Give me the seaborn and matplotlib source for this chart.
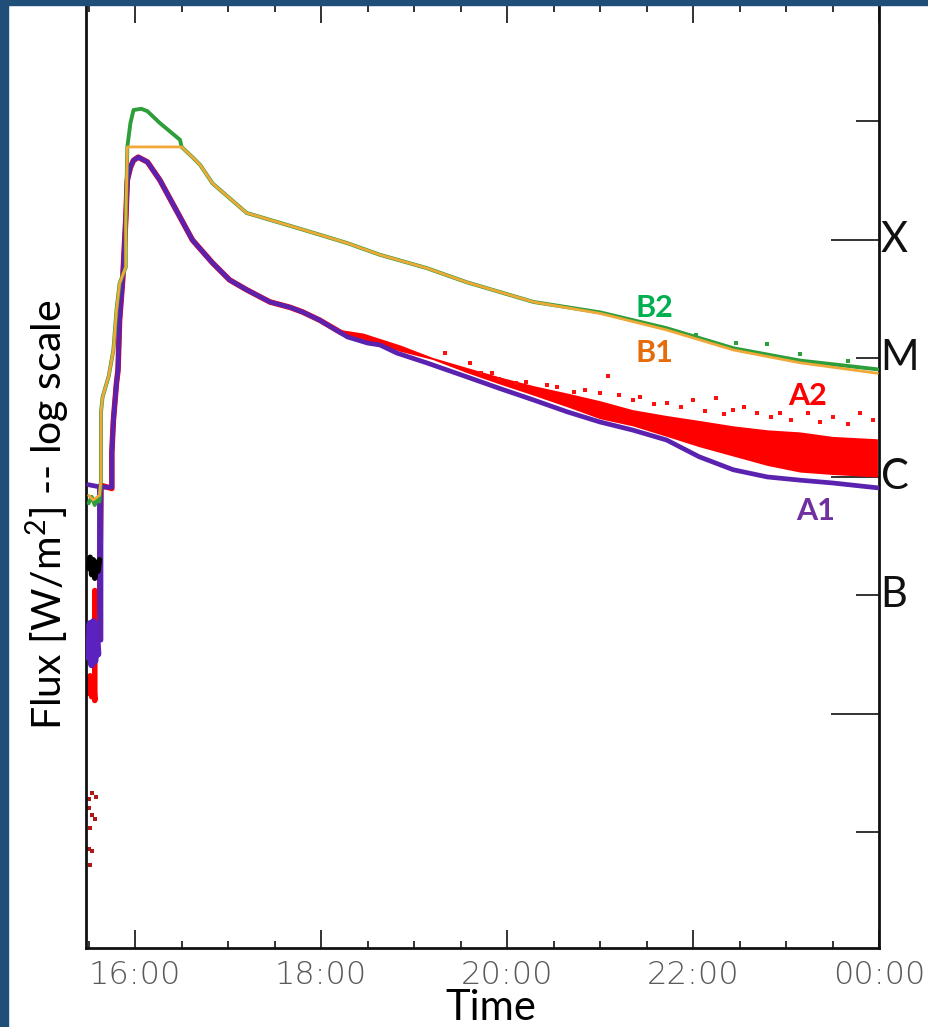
import numpy as np
import pandas as pd
import matplotlib
matplotlib.use("Agg")
import matplotlib.pyplot as plt
import matplotlib.dates as mdates
from matplotlib.patches import Rectangle
from matplotlib.ticker import NullFormatter
import seaborn as sns

sns.set_style("white")
plt.rcParams["font.family"] = ["DejaVu Sans"]
plt.rcParams["mathtext.fontset"] = "custom"
plt.rcParams["mathtext.rm"] = "Lato"

DAY = "2012-03-07 "

# long channel (1-8 A), unsaturated copy
b2_time = ["15:30", "15:32", "15:34", "15:36", "15:37", "15:38", "15:38", "15:39", "15:43",
           "15:46", "15:48", "15:50", "15:54", "15:54", "15:55", "15:57", "15:59", "16:04",
           "16:08", "16:16", "16:29", "16:30", "16:37", "16:42", "16:50", "17:12",
           "17:34", "17:55", "18:17", "18:38", "19:08", "19:34", "20:17", "21:00", "21:43",
           "22:26", "23:09", "23:59"]
b2_flux = [6.0e-7, 6.8e-7, 5.8e-7, 6.6e-7, 6.2e-7, 9.4e-7, 3.5e-6, 4.7e-6, 7.1e-6,
           1.18e-5, 2.56e-5, 4.3e-5, 5.9e-5, 1.39e-4, 6.1e-4, 9.7e-4, 1.25e-3, 1.28e-3,
           1.22e-3, 9.7e-4, 7.0e-4, 6.1e-4, 5.0e-4, 4.3e-4, 3.0e-4, 1.69e-4,
           1.39e-4, 1.15e-4, 9.4e-5, 7.5e-5, 5.8e-5, 4.4e-5, 3.0e-5, 2.45e-5, 1.8e-5,
           1.22e-5, 9.6e-6, 8.1e-6]

# long channel, saturated (flat top)
b1_time = ["15:30", "15:33", "15:37", "15:38", "15:38", "15:39", "15:43", "15:46", "15:48",
           "15:50", "15:54", "15:54", "15:55", "16:30", "16:37", "16:42", "16:50",
           "17:12", "17:34", "17:55", "18:17", "18:38", "19:08", "19:34", "20:17", "21:00",
           "21:43", "22:26", "23:09", "23:59"]
b1_flux = [7.0e-7, 6.4e-7, 7.0e-7, 9.4e-7, 3.5e-6, 4.7e-6, 7.1e-6, 1.18e-5, 2.56e-5,
           4.3e-5, 5.9e-5, 1.39e-4, 6.1e-4, 6.1e-4, 5.0e-4, 4.3e-4, 3.0e-4,
           1.69e-4, 1.39e-4, 1.15e-4, 9.4e-5, 7.5e-5, 5.8e-5, 4.4e-5, 3.0e-5, 2.4e-5,
           1.74e-5, 1.18e-5, 9.2e-6, 7.5e-6]
b2_dot_time = ["22:02", "22:28", "22:48", "23:09", "23:40"]
b2_dot_flux = [1.57e-5, 1.35e-5, 1.33e-5, 1.1e-5, 9.6e-6]

# short channel (0.5-4 A)
a1_time = ["15:30", "15:36", "15:37", "15:37", "15:38", "15:38", "15:45", "15:45", "15:46",
           "15:48", "15:49", "15:50", "15:52", "15:54", "15:55", "15:57", "15:59", "16:02",
           "16:08", "16:16", "16:29", "16:37", "16:50", "17:01", "17:12", "17:27", "17:40",
           "17:48", "17:59", "18:17", "18:30", "18:38", "18:49", "19:08", "19:34", "19:55",
           "20:17", "20:39", "21:00", "21:21", "21:43", "22:04", "22:26", "22:48", "23:09",
           "23:30", "23:59"]
a1_flux = [8.6e-7, 8.3e-7, 8.3e-7, 4.2e-8, 4.2e-8, 8.2e-7, 8.2e-7, 1.6e-6, 3.0e-6,
           6.2e-6, 8.0e-6, 2.1e-5, 4.6e-5, 1.5e-4, 3.2e-4, 4.1e-4, 4.7e-4, 5.0e-4,
           4.55e-4, 3.2e-4, 1.56e-4, 1.0e-4, 6.4e-5, 4.6e-5, 3.8e-5, 3.0e-5, 2.7e-5,
           2.47e-5, 2.11e-5, 1.52e-5, 1.35e-5, 1.3e-5, 1.11e-5, 9.2e-6, 7.0e-6, 5.6e-6,
           4.47e-6, 3.54e-6, 2.91e-6, 2.49e-6, 2.05e-6, 1.48e-6, 1.15e-6, 1.0e-6, 9.4e-7,
           8.9e-7, 8.1e-7]
a1_pre_time = ["15:30", "15:31", "15:32", "15:33", "15:34", "15:35", "15:36"]
a1_pre_flux = [3.0e-8, 5.8e-8, 2.6e-8, 6.0e-8, 2.8e-8, 5.5e-8, 3.2e-8]

# short channel, second sensor
a2_time = ["15:30", "15:31", "15:32", "15:33", "15:34", "15:34", "15:35", "15:36", "15:37",
           "15:38", "15:45", "15:45", "15:46", "15:48", "15:49", "15:50", "15:52", "15:54",
           "15:55", "15:57", "15:59", "16:02", "16:08", "16:16", "16:29", "16:37", "16:50",
           "17:01", "17:12", "17:27", "17:40", "17:48", "17:59", "18:13"]
a2_flux = [1.5e-8, 2.1e-8, 1.4e-8, 2.0e-8, 1.3e-8, 1.1e-7, 8.0e-8, 1.05e-7, 7.5e-8,
           8.5e-7, 8.0e-7, 1.6e-6, 3.0e-6, 6.2e-6, 8.0e-6, 2.1e-5, 4.6e-5, 1.5e-4,
           3.2e-4, 4.1e-4, 4.7e-4, 5.0e-4, 4.55e-4, 3.2e-4, 1.56e-4, 1.0e-4, 6.4e-5,
           4.6e-5, 3.8e-5, 3.0e-5, 2.7e-5, 2.47e-5, 2.11e-5, 1.65e-5]
a2_band_time = ["18:13", "18:27", "18:51", "19:12", "19:34", "19:55", "20:17", "20:39",
                "21:00", "21:21", "21:43", "22:04", "22:26", "22:48", "23:09", "23:30",
                "23:59"]
a2_band_low = [1.6e-5, 1.45e-5, 1.15e-5, 9.8e-6, 7.6e-6, 6.1e-6, 4.9e-6, 3.9e-6,
               3.1e-6, 2.7e-6, 2.2e-6, 1.8e-6, 1.5e-6, 1.25e-6, 1.1e-6, 1.05e-6, 1.0e-6]
a2_band_high = [1.75e-5, 1.64e-5, 1.3e-5, 1.02e-5, 8.4e-6, 7.0e-6, 5.9e-6, 5.1e-6,
                4.4e-6, 3.7e-6, 3.3e-6, 3.0e-6, 2.7e-6, 2.5e-6, 2.4e-6, 2.2e-6, 2.1e-6]
a2_dot_time = ["19:20", "19:36", "19:43", "19:50", "19:55", "20:06", "20:12", "20:26",
               "20:32", "20:43", "20:50", "21:00", "21:05", "21:12", "21:21", "21:26",
               "21:35", "21:43", "21:52", "22:00", "22:08", "22:15", "22:20", "22:26",
               "22:33", "22:41", "22:50", "22:56", "23:03", "23:14", "23:22", "23:30",
               "23:40", "23:48", "23:56"]
a2_dot_flux = [1.12e-5, 9.2e-6, 7.5e-6, 7.6e-6, 6.7e-6, 6.2e-6, 6.3e-6, 6.0e-6,
               5.7e-6, 5.2e-6, 5.4e-6, 5.1e-6, 7.1e-6, 4.9e-6, 4.5e-6, 4.7e-6,
               4.1e-6, 4.2e-6, 3.9e-6, 4.5e-6, 3.6e-6, 4.6e-6, 3.4e-6, 3.7e-6,
               3.9e-6, 3.5e-6, 3.2e-6, 3.5e-6, 3.0e-6, 3.5e-6, 2.9e-6, 3.2e-6,
               2.8e-6, 3.5e-6, 3.0e-6]
a2_low_dot_time = ["15:32", "15:30", "15:35", "15:30", "15:32", "15:34", "15:31", "15:30",
                   "15:32", "15:31"]
a2_low_dot_flux = [2.15e-9, 1.9e-9, 2.0e-9, 1.6e-9, 1.4e-9, 1.3e-9, 1.1e-9, 7.3e-10,
                   7.0e-10, 5.3e-10]

# unlabelled pre-flare trace (black)
k_time = ["15:30", "15:31", "15:32", "15:33", "15:34", "15:35", "15:36", "15:37"]
k_flux = [1.7e-7, 2.1e-7, 1.5e-7, 2.0e-7, 1.4e-7, 1.9e-7, 1.6e-7, 2.0e-7]

class_flux = [1e-4, 1e-5, 1e-6, 1e-7]
class_names = ["X", "M", "C", "B"]
x_tick_labels = ["16:00", "18:00", "20:00", "22:00", "00:00"]


def to_dt(times):
    return pd.to_datetime([DAY + t for t in times])


W, H = 929, 1027
fig = plt.figure(figsize=(W / 100, H / 100), dpi=100)
fig.patch.set_facecolor("white")
ax = fig.add_axes([86 / W, 79 / H, (879 - 86) / W, (1022 - 79) / H])
ax.set_yscale("log")

# red sensor under the purple one
sns.lineplot(x=to_dt(a2_time), y=a2_flux, sort=False, estimator=None, color="#ff0000",
             linewidth=4.0, ax=ax, zorder=2)
ax.fill_between(to_dt(a2_band_time), a2_band_low, a2_band_high, color="#ff0000",
                linewidth=0, zorder=2)
sns.scatterplot(x=to_dt(a2_dot_time), y=a2_dot_flux, color="#ff1010", marker="s", s=8,
                linewidth=0, ax=ax, zorder=2)
sns.scatterplot(x=to_dt(a2_low_dot_time), y=a2_low_dot_flux, color="#b01818", marker="s",
                s=6, linewidth=0, ax=ax, zorder=2)

sns.lineplot(x=to_dt(a1_pre_time), y=a1_pre_flux, sort=False, estimator=None,
             color="#5b22c0", linewidth=5, ax=ax, zorder=3)
sns.lineplot(x=to_dt(a1_time), y=a1_flux, sort=False, estimator=None, color="#5b22b0",
             linewidth=3.4, ax=ax, zorder=3)
sns.lineplot(x=to_dt(k_time), y=k_flux, sort=False, estimator=None, color="black",
             linewidth=4, ax=ax, zorder=3)

sns.lineplot(x=to_dt(b2_time), y=b2_flux, sort=False, estimator=None, color="#2e9e3a",
             linewidth=2.8, ax=ax, zorder=4)
sns.scatterplot(x=to_dt(b2_dot_time), y=b2_dot_flux, color="#2e9e3a", marker="s", s=5,
                linewidth=0, ax=ax, zorder=4)
sns.lineplot(x=to_dt(b1_time), y=b1_flux, sort=False, estimator=None, color="#f0a838",
             linewidth=2.0, ax=ax, zorder=5)

# axes
ax.set_xlim(pd.Timestamp(DAY + "15:28:20"), pd.Timestamp("2012-03-08 00:00"))
ax.set_ylim(10 ** -9.975, 10 ** -2.017)
ax.set_xlabel("")
ax.set_ylabel("")

major_x = pd.date_range(DAY + "16:00", "2012-03-08 00:00", freq="2h")
ax.set_xticks(major_x, x_tick_labels, fontfamily="DejaVu Sans", fontweight="light",
              fontsize=23, color="#5a5a5a")
ax.xaxis.set_minor_locator(mdates.MinuteLocator(byminute=[0, 30]))
ax.tick_params(axis="x", which="both", direction="in", top=True, bottom=True,
               color="#222222", width=1.3)
ax.tick_params(axis="x", which="major", length=13, pad=9)
ax.tick_params(axis="x", which="minor", length=5)

ax.yaxis.set_ticks_position("right")
ax.set_yticks([1e-8, 1e-6, 1e-4])
ax.set_yticks([1e-9, 1e-7, 1e-5, 1e-3], minor=True)
ax.yaxis.set_major_formatter(NullFormatter())
ax.yaxis.set_minor_formatter(NullFormatter())
ax.tick_params(axis="y", which="major", direction="in", length=34.5, width=1.3,
               color="#222222")
ax.tick_params(axis="y", which="minor", direction="in", length=16.5, width=1.3,
               color="#222222")

for side in ["left", "right", "bottom"]:
    ax.spines[side].set_linewidth(2.0)
    ax.spines[side].set_color("#111111")
ax.spines["top"].set_visible(False)

for fl, name in zip(class_flux, class_names):
    ax.text(1.002, fl, name, transform=ax.get_yaxis_transform(), ha="left", va="center",
            fontsize=30, family="Lato", color="#111111")

ax.text(pd.Timestamp(DAY + "21:35"), 2.67e-5, "B2", color="#00b050", fontsize=22,
        fontweight="bold", family="Lato", ha="center", va="center")
ax.text(pd.Timestamp(DAY + "21:35"), 1.11e-5, "B1", color="#e46c0a", fontsize=22,
        fontweight="bold", family="Lato", ha="center", va="center")
ax.text(pd.Timestamp(DAY + "23:14"), 4.8e-6, "A2", color="#ff0000", fontsize=22,
        fontweight="bold", family="Lato", ha="center", va="center")
ax.text(pd.Timestamp(DAY + "23:19"), 5.2e-7, "A1", color="#7030a0", fontsize=22,
        fontweight="bold", family="Lato", ha="center", va="center")

fig.text(48 / W, 1 - 515 / H, r"Flux [W/m$^\mathregular{2}$] -- log scale", rotation=90,
         ha="center", va="center", fontsize=29.5, family="Lato", color="black")
fig.text(491 / W, 1 - 1008 / H, "Time", ha="center", va="center", fontsize=30,
         family="Lato", color="black")

# slide background strips
fig.patches.append(Rectangle((0, 0), 8 / W, 1, transform=fig.transFigure,
                             color="#1f4e79", zorder=10))
fig.patches.append(Rectangle((0, 1 - 5 / H), 1, 5 / H, transform=fig.transFigure,
                             color="#1f4e79", zorder=10))

fig.savefig("out.png", dpi=100)
